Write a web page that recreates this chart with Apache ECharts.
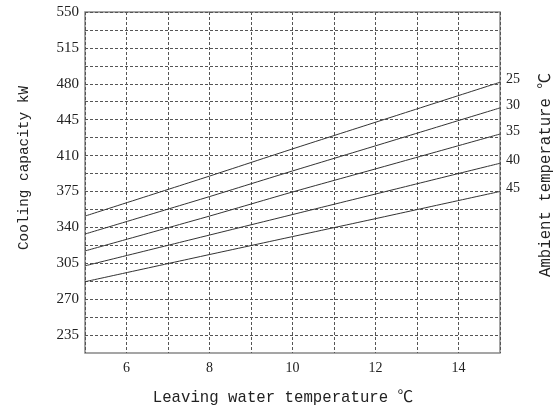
<!DOCTYPE html>
<html>
<head>
<meta charset="utf-8">
<script src="https://cdn.jsdelivr.net/npm/echarts@6/dist/echarts.min.js"></script>
<style>
  html, body { margin: 0; padding: 0; background: #fff; }
  #chart { width: 558px; height: 414px; }
</style>
</head>
<body>
<div id="chart"></div>
<script>
// Leaving water temperature (°C) sample points
const waterTemps = [5, 8, 10, 12, 15];
// Ambient temperature curves (°C) and their cooling capacity (kW)
const ambientTemps = ['25', '30', '35', '40', '45'];
const cap25 = [351, 390, 416.5, 442.5, 481.5];
const cap30 = [333.5, 370, 395, 419.5, 456.5];
const cap35 = [317, 351, 374.5, 397, 431];
const cap40 = [302.5, 332.5, 352.5, 372.5, 402.5];
const cap45 = [287, 313.5, 331, 348.5, 375];
// Capacity axis labels and grid positions
const yLabels = [235, 270, 305, 340, 375, 410, 445, 480, 515, 550];
const yGrid = [235, 252.5, 270, 287.5, 305, 322.5, 340, 357.5, 375, 392.5, 410, 427.5, 445, 462.5, 480, 497.5, 515, 532.5, 550];

const capacities = [cap25, cap30, cap35, cap40, cap45];
const monoFont = "'Liberation Mono', 'DejaVu Sans Mono', 'Noto Sans CJK SC', monospace";
const numFont = "'Liberation Serif', serif";

const chart = echarts.init(document.getElementById('chart'), null, { renderer: 'canvas' });

const series = ambientTemps.map((name, i) => ({
  name: name,
  type: 'line',
  data: waterTemps.map((t, j) => [t, capacities[i][j]]),
  symbol: 'none',
  smooth: 0.2,
  lineStyle: { color: '#333', width: 1 },
  silent: true,
  endLabel: {
    show: true,
    formatter: '{a}',
    color: '#222',
    fontFamily: numFont,
    fontSize: 14,
    distance: 6,
    offset: [0, -3]
  }
}));

chart.setOption({
  animation: false,
  backgroundColor: '#fff',
  grid: {
    left: 85, right: 58, top: 12, bottom: 61,
    show: true,
    borderColor: '#888',
    borderWidth: 1.5
  },
  xAxis: {
    type: 'value',
    min: 5, max: 15, interval: 1,
    axisLine: { show: false },
    axisTick: { show: false },
    axisLabel: {
      color: '#222',
      fontFamily: numFont,
      fontSize: 14,
      margin: 8,
      formatter: v => (v % 2 === 0 ? String(v) : '')
    },
    splitLine: { show: true, lineStyle: { color: '#555', width: 1, type: [3, 2] } }
  },
  yAxis: {
    type: 'value',
    min: 217.5, max: 550,
    axisLine: { show: false },
    axisTick: { show: false, customValues: yGrid },
    axisLabel: {
      color: '#222',
      fontFamily: numFont,
      fontSize: 15,
      margin: 6,
      customValues: yLabels
    },
    splitLine: { show: true, lineStyle: { color: '#555', width: 1, type: [3, 2] } }
  },
  graphic: [
    {
      type: 'text', x: 283, y: 398,
      style: { text: 'Leaving water temperature ℃', fill: '#222', font: '15.7px ' + monoFont, align: 'center', verticalAlign: 'middle' }
    },
    {
      type: 'text', x: 24, y: 168, rotation: Math.PI / 2,
      style: { text: 'Cooling capacity kW', fill: '#222', font: '14.4px ' + monoFont, align: 'center', verticalAlign: 'middle' }
    },
    {
      type: 'text', x: 546, y: 175, rotation: Math.PI / 2,
      style: { text: 'Ambient temperature ℃', fill: '#222', font: '15.7px ' + monoFont, align: 'center', verticalAlign: 'middle' }
    }
  ],
  series: series
});
</script>
</body>
</html>
